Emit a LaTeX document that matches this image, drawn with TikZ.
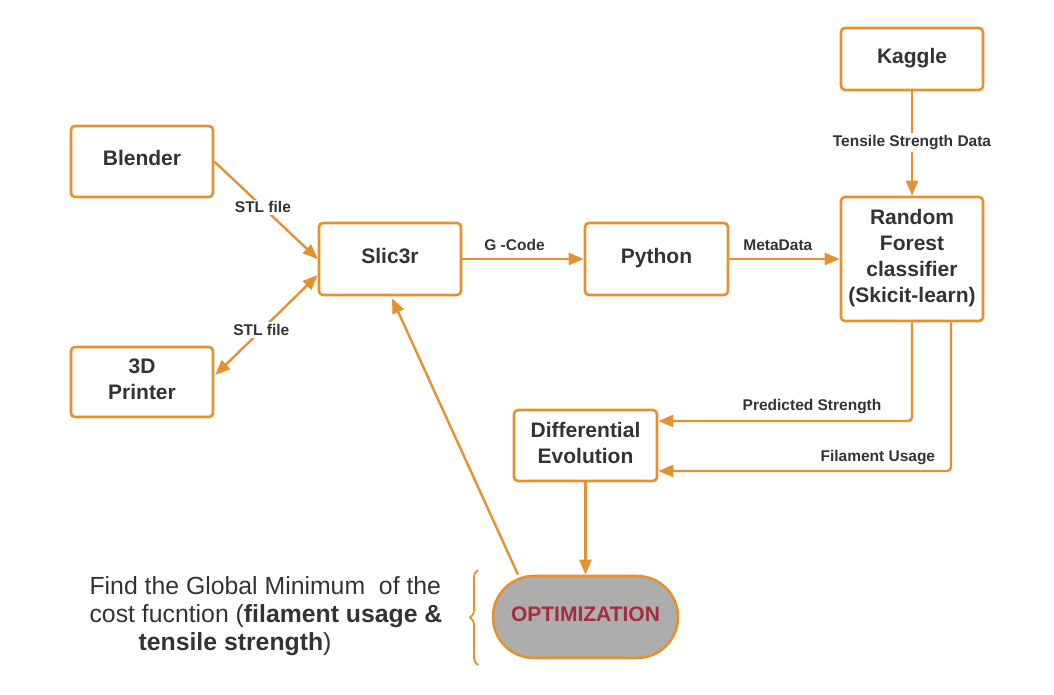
\documentclass[tikz,border=0pt]{standalone}
\usepackage{fontspec}
\setmainfont{Liberation Sans}
\usetikzlibrary{arrows.meta,decorations.pathreplacing,calc}
\definecolor{orng}{HTML}{E6912F}
\definecolor{txt}{HTML}{333333}
\definecolor{optfill}{HTML}{ADADAD}
\definecolor{optred}{HTML}{A52D3C}
\newcommand\bstrut{\rule[-8.5pt]{0pt}{26pt}}
\begin{document}
\begin{tikzpicture}[x=1pt,y=-1pt,
  box/.style={draw=orng, line width=2.6pt, rounded corners=4pt, fill=white, text=txt,
    font=\fontsize{21}{26}\selectfont\bfseries, align=center, inner sep=0pt},
  conn/.style={draw=orng, line width=2.4pt, -{Triangle[length=15pt,width=12pt]}},
  dconn/.style={draw=orng, line width=2.4pt, {Triangle[length=15pt,width=12pt]}-{Triangle[length=15pt,width=12pt]}},
  lbl/.style={text=txt, font=\fontsize{15.5}{18}\selectfont\bfseries, inner sep=2pt},
  lblw/.style={lbl, fill=white}]
\useasboundingbox (0,0) rectangle (1054,695);

\node[box, minimum width=142pt, minimum height=71pt] (blender) at (142,161.5) {\bstrut Blender};
\node[box, minimum width=142pt, minimum height=70pt] (printer) at (142,382) {\bstrut 3D\\\bstrut Printer};
\node[box, minimum width=142pt, minimum height=72pt] (slicer) at (390,259) {\bstrut Slic3r};
\node[box, minimum width=143pt, minimum height=72pt] (python) at (656.5,259) {\bstrut Python};
\node[box, minimum width=142pt, minimum height=124pt] (rf) at (912,259)
  {\bstrut Random\\\bstrut Forest\\\bstrut classifier\\\bstrut (Skicit-learn)};
\node[box, minimum width=142pt, minimum height=62pt] (kaggle) at (912,59) {\bstrut Kaggle};
\node[box, minimum width=143pt, minimum height=71pt] (de) at (585.5,445.5) {\bstrut Differential\\\bstrut Evolution};
\node[draw=orng, line width=2.6pt, rounded corners=41pt, fill=optfill, text=optred,
  font=\fontsize{21}{26}\selectfont\bfseries, minimum width=185pt, minimum height=82pt, inner sep=0pt]
  (opt) at (585.5,617) {\bstrut OPTIMIZATION};

\node[text=txt, font=\fontsize{24.8}{28}\selectfont, align=left, inner sep=0pt] (note) at (266,616)
  {Find the Global Minimum\ \ of the\\cost fucntion (\textbf{filament usage \&}\\\hspace*{49pt}\textbf{tensile strength})};

\coordinate (bt) at (478,665);
\coordinate (bb) at (478,570);
\draw[orng, line width=1.8pt, decorate, decoration={brace, amplitude=8pt}] (bt) -- (bb);

\draw[conn] (blender.east) -- (slicer.west) node[lblw, pos=0.47] {STL file};
\draw[dconn] ($(slicer.west)+(0,16)$) -- ($(printer.east)+(1,-7)$) node[lblw, pos=0.55] {STL file};
\draw[conn] (slicer.east) -- (python.west) node[lbl, pos=0.43, above=5pt] {G -Code};
\draw[conn] (python.east) -- (rf.west) node[lbl, pos=0.44, above=5pt] {MetaData};
\draw[conn] (kaggle.south) -- (rf.north) node[lblw, pos=0.49] {Tensile Strength Data};
\draw[conn, rounded corners=4pt] (rf.south) |- ($(de.east)+(0,-24.5)$) node[lbl, pos=0.697, above=4pt] {Predicted Strength};
\draw[conn, rounded corners=4pt] ($(rf.south)+(39,0)$) |- ($(de.east)+(0,25.5)$) node[lbl, pos=0.625, above=3pt] {Filament Usage};
\draw[conn] (de.south) -- (opt.north);
\draw[conn] ($(opt.north)+(-67.5,0)$) -- ($(slicer.south)+(2,2)$);
\end{tikzpicture}
\end{document}
